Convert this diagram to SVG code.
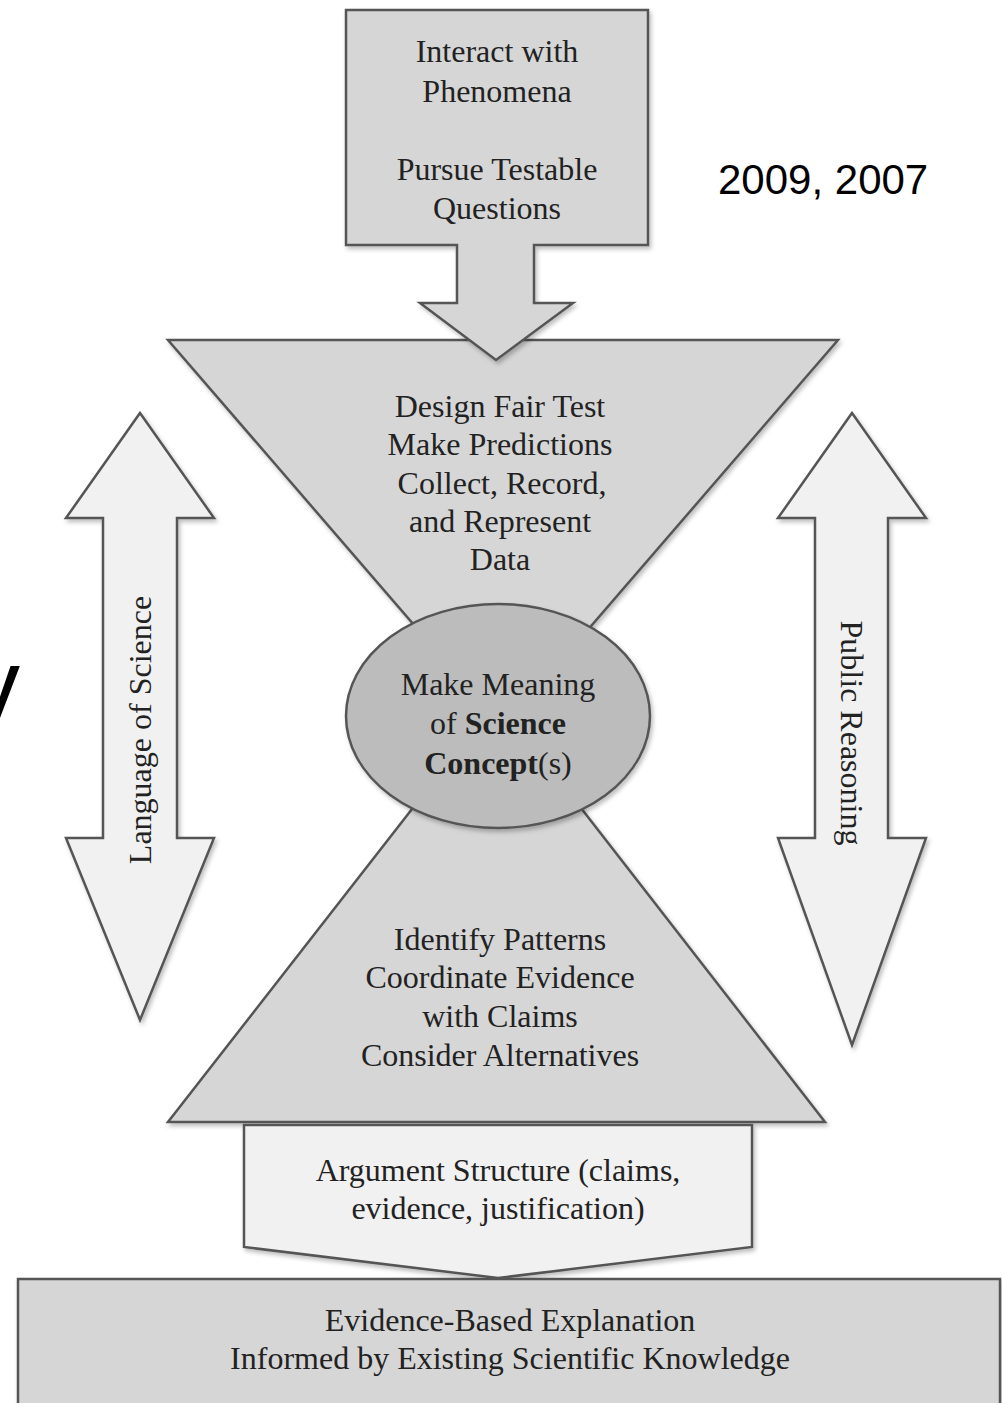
<svg xmlns="http://www.w3.org/2000/svg" width="1002" height="1403" viewBox="0 0 1002 1403">
<defs>
<filter id="sh" x="-10%" y="-10%" width="120%" height="120%">
<feDropShadow dx="2" dy="3" stdDeviation="2" flood-color="#000" flood-opacity="0.25"/>
</filter>
<style>
.shape{stroke:#555;stroke-width:2.5;stroke-linejoin:miter;filter:url(#sh)}
.mid{fill:#d6d6d6}
.dark{fill:#bcbcbc}
.light{fill:#f1f1f1}
.t{font-family:"Liberation Serif","Times New Roman",serif;font-size:32px;fill:#222;text-anchor:middle}
.b{font-weight:bold}
.note{font-family:"Liberation Sans",Arial,sans-serif;font-size:42px;fill:#000}
</style>
</defs>
<rect width="1002" height="1403" fill="#fff"/>
<text class="note" x="-30" y="719" style="font-size:100px">y</text>
<text class="note" x="718" y="194">2009, 2007</text>

<g id="connectors">
<g id="language-arrow">
<path class="shape light" d="M140,413 L214,518 H177 V838 H214 L140,1020 L66,838 H103 V518 H66 Z"/>
<text class="t" transform="translate(151,730) rotate(-90)">Language of Science</text>
</g>
<g id="reasoning-arrow">
<path class="shape light" d="M852,413 L926,518 H888 V838 H926 L852,1045 L778,838 H815 V518 H778 Z"/>
<text class="t" transform="translate(841,733) rotate(90)">Public Reasoning</text>
</g>
</g>

<g id="analyze">
<path class="shape mid" d="M168,1122 H825 L497,700 Z"/>
<text class="t" x="500" y="950">Identify Patterns</text>
<text class="t" x="500" y="988">Coordinate Evidence</text>
<text class="t" x="500" y="1027">with Claims</text>
<text class="t" x="500" y="1066">Consider Alternatives</text>
</g>

<g id="investigate">
<path class="shape mid" d="M168,340 H838 L503,728 Z"/>
<text class="t" x="500" y="417">Design Fair Test</text>
<text class="t" x="500" y="455">Make Predictions</text>
<text class="t" x="502" y="494">Collect, Record,</text>
<text class="t" x="500" y="532">and Represent</text>
<text class="t" x="500" y="570">Data</text>
</g>

<g id="meaning">
<ellipse class="shape dark" cx="498" cy="716" rx="152" ry="112"/>
<text class="t" x="498" y="695">Make Meaning</text>
<text class="t" x="498" y="734">of <tspan class="b">Science</tspan></text>
<text class="t" x="498" y="774"><tspan class="b">Concept</tspan>(s)</text>
</g>

<g id="phenomena">
<path class="shape mid" d="M346,10 H648 V245 H534 V303 H573 L496,360 L420,303 H457 V245 H346 Z"/>
<text class="t" x="497" y="62">Interact with</text>
<text class="t" x="497" y="102">Phenomena</text>
<text class="t" x="497" y="180">Pursue Testable</text>
<text class="t" x="497" y="219">Questions</text>
</g>

<g id="argument">
<path class="shape light" d="M244,1125 H752 V1247 L498,1278 L244,1247 Z"/>
<text class="t" x="498" y="1181">Argument Structure (claims,</text>
<text class="t" x="498" y="1219">evidence, justification)</text>
</g>

<g id="explanation">
<rect class="shape mid" x="18" y="1279" width="982" height="126"/>
<text class="t" x="510" y="1331">Evidence-Based Explanation</text>
<text class="t" x="510" y="1369">Informed by Existing Scientific Knowledge</text>
</g>
</svg>
